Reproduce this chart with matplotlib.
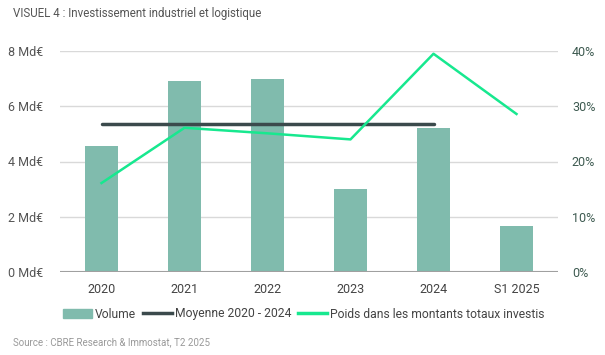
import matplotlib
matplotlib.use("Agg")
import matplotlib.pyplot as plt
from matplotlib.patches import Patch
from matplotlib.lines import Line2D

categories = ["2020", "2021", "2022", "2023", "2024", "S1 2025"]
volume = [4.55, 6.9, 7.0, 3.02, 5.22, 1.68]
poids = [16.1, 26.1, 25.1, 24.0, 39.5, 28.6]
moyenne = 5.34
moyenne_cats = ["2020", "2024"]
left_ticks = [0, 2, 4, 6, 8]
left_labels = ["0 Md€", "2 Md€", "4 Md€", "6 Md€", "8 Md€"]
right_ticks = [0, 10, 20, 30, 40]
right_labels = ["0%", "10%", "20%", "30%", "40%"]

plt.rcParams['font.family'] = ['Roboto', 'DejaVu Sans']

fig = plt.figure(figsize=(6.05, 3.55), dpi=100)
ax = fig.add_axes([60/605, 1-272/355, 498/605, 221/355])
ax2 = ax.twinx()

x = list(range(len(categories)))
bar_c = "#80bbad"
ax.bar(x, volume, width=0.4, color=bar_c, zorder=2)
i0 = categories.index(moyenne_cats[0]); i1 = categories.index(moyenne_cats[1])
ax.plot([i0, i1], [moyenne, moyenne], color="#3b4a4c", lw=2.5, solid_capstyle='round', zorder=3)
ax2.plot(x, poids, color="#17e88f", lw=1.8, zorder=4)

ax.set_xlim(-0.5, len(categories) - 0.5)
ax.set_ylim(0, 8)
ax2.set_ylim(0, 40)
ax.set_yticks(left_ticks)
ax.set_yticklabels(left_labels)
ax2.set_yticks(right_ticks)
ax2.set_yticklabels(right_labels)
ax.set_xticks(x)
ax.set_xticklabels(categories)

ax.grid(axis='y', color="#d9d9d9", lw=1, zorder=0)
ax.set_axisbelow(True)
for a in (ax, ax2):
    for s in a.spines.values():
        s.set_visible(False)
ax.axhline(0, color="#a0a0a0", lw=1.5, zorder=5)
ax.tick_params(axis='y', length=0, pad=12, labelsize=9, labelcolor="#555555")
ax.tick_params(axis='x', length=0, pad=8, labelsize=9, labelcolor="#444444")
ax2.tick_params(axis='y', length=0, pad=10, labelsize=9, labelcolor="#3d5a50")
ax.set_zorder(ax2.get_zorder() - 1)
ax.patch.set_visible(False)
ax2.patch.set_visible(False)

handles = [Patch(color=bar_c),
           Line2D([0], [0], color="#3b4a4c", lw=2.5),
           Line2D([0], [0], color="#17e88f", lw=2.5)]
labels = ["Volume", "Moyenne 2020 - 2024", "Poids dans les montants totaux investis"]
fig.legend(handles, labels, loc='center', bbox_to_anchor=(304/605, 1-314/355), ncol=3,
           frameon=False, fontsize=8.7, handlelength=2.4, handletextpad=0.25, columnspacing=0.55,
           labelcolor="#444444")

fig.text(13/605, 1-14/355, "VISUEL 4 : Investissement industriel et logistique",
         fontsize=8.3, color="#555555", va='center', ha='left')
fig.text(13/605, 1-342/355, "Source : CBRE Research & Immostat, T2 2025",
         fontsize=7, color="#999999", va='center', ha='left')

fig.savefig("out.png", dpi=100)
